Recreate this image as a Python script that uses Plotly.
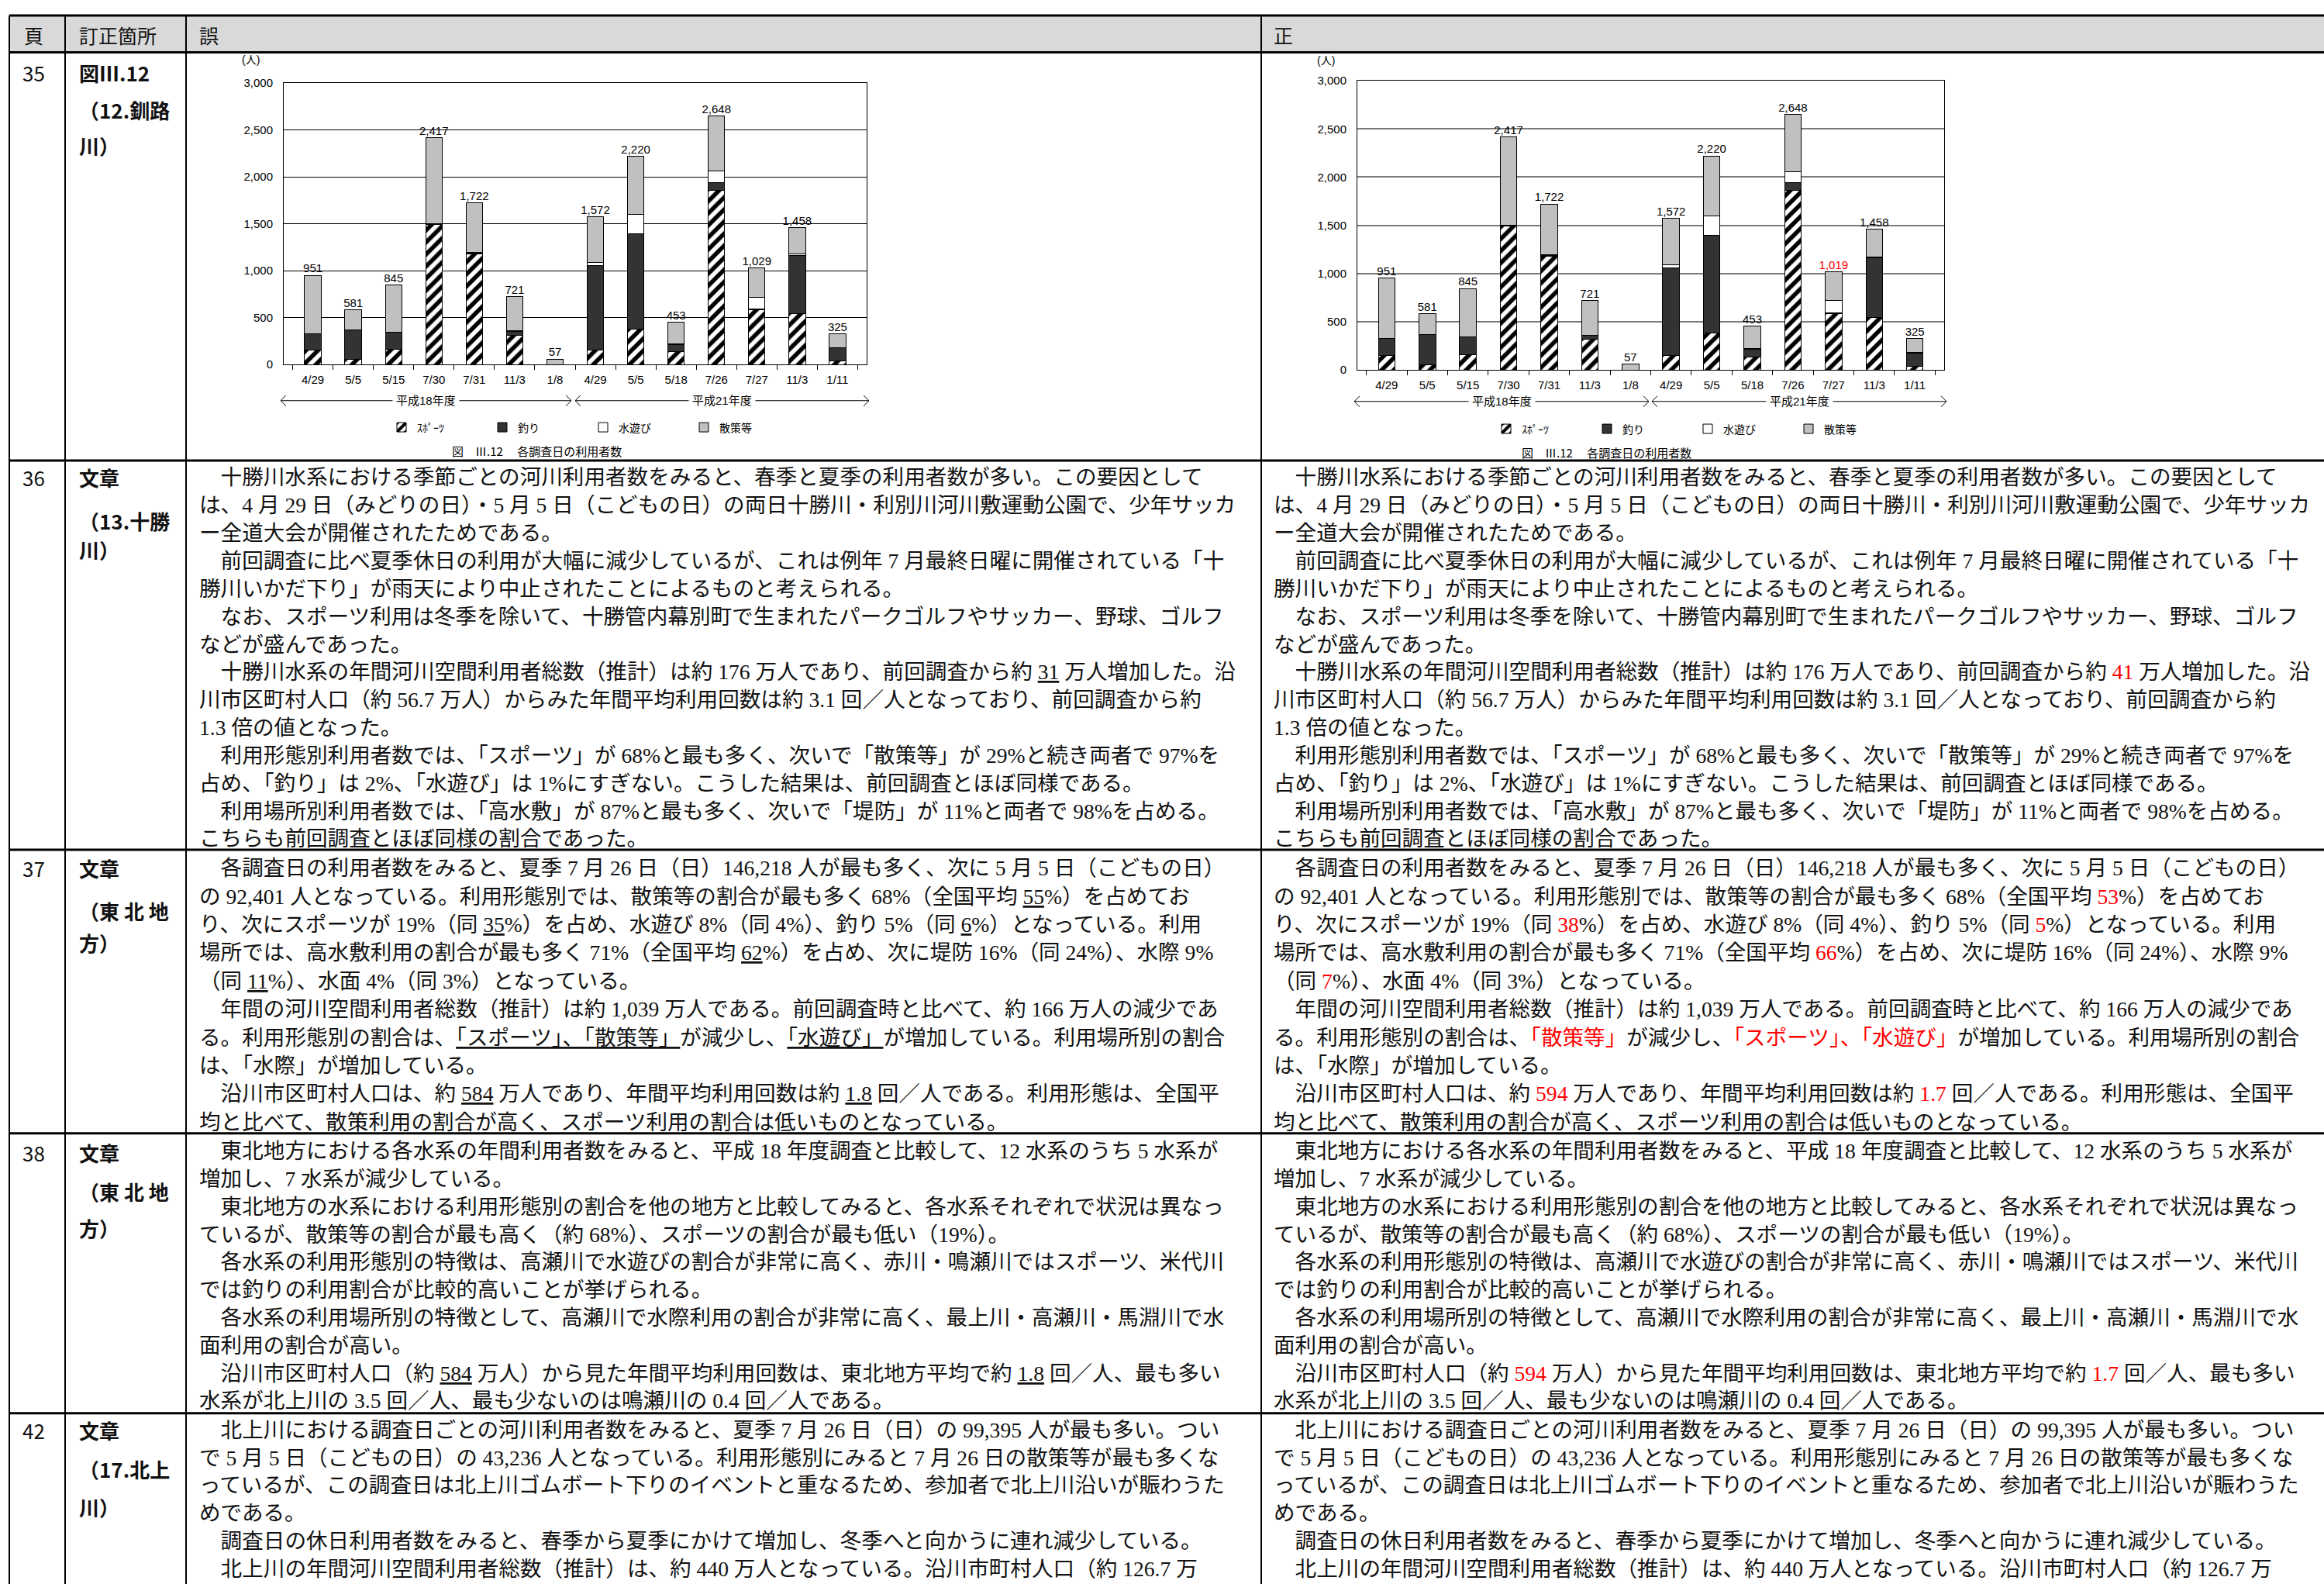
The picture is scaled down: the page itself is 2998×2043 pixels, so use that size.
import plotly.graph_objects as go

W, H = 2998, 2043

# ---------------- chart data (図Ⅲ.12 各調査日の利用者数) ----------------
dates = ["4/29", "5/5", "5/15", "7/30", "7/31", "11/3", "1/8",
         "4/29", "5/5", "5/18", "7/26", "7/27", "11/3", "1/11"]
periods = ["平成18年度"] * 7 + ["平成21年度"] * 7
sports = [150, 55, 160, 1495, 1180, 315, 0, 150, 380, 135, 1860, 580, 545, 35]
fishing = [175, 310, 180, 5, 8, 40, 0, 905, 1015, 75, 80, 15, 620, 140]
water_play = [5, 5, 5, 5, 4, 5, 0, 35, 205, 10, 120, 125, 10, 5]
stroll_wrong = [621, 211, 500, 912, 530, 361, 57, 482, 620, 233, 588, 309, 283, 145]
stroll_right = [621, 211, 500, 912, 530, 361, 57, 482, 620, 233, 588, 299, 283, 145]
corrected = [0] * 11 + [1] + [0] * 2
series_names = ["ｽﾎﾟｰﾂ", "釣り", "水遊び", "散策等"]
y_ticks = [0, 500, 1000, 1500, 2000, 2500, 3000]

BODY = "Liberation Serif, Noto Sans CJK JP"
SANS = "Liberation Sans, Noto Sans CJK JP"
JP = "Noto Sans CJK JP"
RED = "#ff0000"
BODY_SIZE = 27.6


def px(x):
    return x / W


def py(y):
    return 1 - y / H


def U(s):
    return "<u>" + s + "</u>"


def R(s):
    return "<span style='color:%s'>%s</span>" % (RED, s)


cats = [p + " " + d for p, d in zip(periods, dates)]

fig = go.Figure()


def add_chart(stroll, xa, ya, leg, label_red):
    styles = [
        dict(color="white", pattern=dict(shape="/", fgcolor="black", bgcolor="white",
                                         size=11, solidity=0.5, fillmode="replace")),
        dict(color="#333333"),
        dict(color="white"),
        dict(color="#c0c0c0"),
    ]
    for name, vals, st in zip(series_names, [sports, fishing, water_play, stroll], styles):
        st = dict(st)
        st["line"] = dict(color="black", width=1)
        fig.add_trace(go.Bar(x=cats, y=vals, name=name, marker=st, xaxis=xa, yaxis=ya,
                             legend=leg, hoverinfo="skip"))
    totals = [a + b + c + d for a, b, c, d in zip(sports, fishing, water_play, stroll)]
    colors = [RED if (label_red and f) else "black" for f in corrected]
    fig.add_trace(go.Scatter(x=cats, y=totals, mode="text", text=[f"{t:,}" for t in totals],
                             textposition="top center",
                             textfont=dict(size=15, family=SANS, color=colors),
                             xaxis=xa, yaxis=ya, showlegend=False, cliponaxis=False,
                             hoverinfo="skip"))


add_chart(stroll_wrong, "x", "y", "legend", False)
add_chart(stroll_right, "x2", "y2", "legend2", True)


def xaxis_cfg(x0, x1, anchor):
    return dict(domain=[px(x0), px(x1)], anchor=anchor, type="category",
                categoryorder="array", categoryarray=cats, tickmode="array",
                tickvals=cats, ticktext=dates, ticks="outside", tickson="boundaries",
                ticklen=6, tickcolor="black", showline=True, linecolor="black",
                linewidth=1, mirror=True, showgrid=False,
                tickfont=dict(size=15, family=SANS, color="black"), ticklabelstandoff=6)


def yaxis_cfg(y_top, y_bot, anchor, gridcolor, gridwidth):
    return dict(domain=[py(y_bot), py(y_top)], anchor=anchor, range=[0, 3000],
                tickmode="array", tickvals=y_ticks, tickformat=",",
                showgrid=True, gridcolor=gridcolor, gridwidth=gridwidth,
                showline=True, linecolor="black", linewidth=1, mirror=True, ticks="",
                zeroline=False, tickfont=dict(size=15, family=SANS, color="black"),
                ticklabelstandoff=10)


shapes = []
annotations = []


def line(x0, y0, x1, y1, w=2, color="black"):
    shapes.append(dict(type="line", xref="paper", yref="paper", x0=px(x0), y0=py(y0),
                       x1=px(x1), y1=py(y1), line=dict(color=color, width=w)))


def text(x, y, t, size=BODY_SIZE, family=BODY, xanchor="left", color="#111", bg=None):
    a = dict(x=px(x), y=py(y), xref="paper", yref="paper", text=t, showarrow=False,
             xanchor=xanchor, yanchor="middle", font=dict(size=size, family=family, color=color))
    if bg:
        a["bgcolor"] = bg
        a["borderpad"] = 4
    annotations.append(a)


# ---- chart decorations (group arrows, unit, caption) ----
def chart_decor(unit_x, unit_y, arrows, arrow_y, cap_x, cap_y):
    text(unit_x, unit_y, "(人)", size=14, family=SANS, color="black")
    for (a0, a1), lab in zip(arrows, ["平成18年度", "平成21年度"]):
        line(a0, arrow_y, a1, arrow_y, w=1)
        shapes.append(dict(type="path", xref="paper", yref="paper",
                           path="M %f %f L %f %f L %f %f" % (px(a0 + 7), py(arrow_y - 7), px(a0), py(arrow_y), px(a0 + 7), py(arrow_y + 7)),
                           line=dict(color="black", width=1)))
        shapes.append(dict(type="path", xref="paper", yref="paper",
                           path="M %f %f L %f %f L %f %f" % (px(a1 - 7), py(arrow_y - 7), px(a1), py(arrow_y), px(a1 - 7), py(arrow_y + 7)),
                           line=dict(color="black", width=1)))
        text((a0 + a1) / 2, arrow_y, lab, size=15, family=SANS, xanchor="center",
             color="black", bg="white")
    text(cap_x, cap_y, "図　Ⅲ.12　 各調査日の利用者数", size=15, family=JP, xanchor="center", color="black")


chart_decor(310, 69, [(362, 737), (742, 1121)], 512, 692, 577)
chart_decor(1697, 70, [(1747, 2127), (2131, 2511)], 513, 2072, 579)

# ---- table grid ----
shapes.append(dict(type="rect", xref="paper", yref="paper", x0=px(12), x1=px(3010),
                   y0=py(59), y1=py(11), fillcolor="#d9d9d9", line=dict(width=0), layer="below"))
for yy in [11, 59, 590, 1096, 1465, 1829]:
    line(12, yy, 3010, yy, w=3)
for xx in [12, 84, 240, 1627]:
    line(xx, 11, xx, 2060, w=2)

# header
HEAD = dict(size=25, family=JP, color="#111")
text(43, 36, "頁", xanchor="center", **HEAD)
text(100, 36, "訂正箇所", **HEAD)
text(255, 36, "誤", **HEAD)
text(1641, 36, "正", **HEAD)

# page column and location column
pages = [("35", 85), ("36", 612), ("37", 1120), ("38", 1490), ("42", 1851)]
for p, yy in pages:
    text(43, yy, p, size=26, family=JP, xanchor="center")

locs = [
    [("<b>図Ⅲ.12</b>", 85), ("<b>（12.釧路</b>", 134), ("<b>川）</b>", 180)],
    [("<b>文章</b>", 612), ("<b>（13.十勝</b>", 668), ("<b>川）</b>", 705)],
    [("<b>文章</b>", 1120), ("<b>（東 北 地</b>", 1175), ("<b>方）</b>", 1217)],
    [("<b>文章</b>", 1490), ("<b>（東 北 地</b>", 1540), ("<b>方）</b>", 1588)],
    [("<b>文章</b>", 1851), ("<b>（17.北上</b>", 1901), ("<b>川）</b>", 1951)],
]
for grp in locs:
    for t, yy in grp:
        text(100, yy, t, size=26, family=JP)

# ---- body text ----
I = "　"


def r36(v):
    return [
        I + "十勝川水系における季節ごとの河川利用者数をみると、春季と夏季の利用者数が多い。この要因として",
        "は、4 月 29 日（みどりの日）・5 月 5 日（こどもの日）の両日十勝川・利別川河川敷運動公園で、少年サッカ",
        "ー全道大会が開催されたためである。",
        I + "前回調査に比べ夏季休日の利用が大幅に減少しているが、これは例年 7 月最終日曜に開催されている「十",
        "勝川いかだ下り」が雨天により中止されたことによるものと考えられる。",
        I + "なお、スポーツ利用は冬季を除いて、十勝管内幕別町で生まれたパークゴルフやサッカー、野球、ゴルフ",
        "などが盛んであった。",
        I + "十勝川水系の年間河川空間利用者総数（推計）は約 176 万人であり、前回調査から約 " + v + " 万人増加した。沿",
        "川市区町村人口（約 56.7 万人）からみた年間平均利用回数は約 3.1 回／人となっており、前回調査から約",
        "1.3 倍の値となった。",
        I + "利用形態別利用者数では、「スポーツ」が 68%と最も多く、次いで「散策等」が 29%と続き両者で 97%を",
        "占め、「釣り」は 2%、「水遊び」は 1%にすぎない。こうした結果は、前回調査とほぼ同様である。",
        I + "利用場所別利用者数では、「高水敷」が 87%と最も多く、次いで「堤防」が 11%と両者で 98%を占める。",
        "こちらも前回調査とほぼ同様の割合であった。",
    ]


row36_wrong = r36(U("31"))
row36_right = r36(R("41"))

row37_wrong = [
    I + "各調査日の利用者数をみると、夏季 7 月 26 日（日）146,218 人が最も多く、次に 5 月 5 日（こどもの日）",
    "の 92,401 人となっている。利用形態別では、散策等の割合が最も多く 68%（全国平均 " + U("55") + "%）を占めてお",
    "り、次にスポーツが 19%（同 " + U("35") + "%）を占め、水遊び 8%（同 4%）、釣り 5%（同 " + U("6") + "%）となっている。利用",
    "場所では、高水敷利用の割合が最も多く 71%（全国平均 " + U("62") + "%）を占め、次に堤防 16%（同 24%）、水際 9%",
    "（同 " + U("11") + "%）、水面 4%（同 3%）となっている。",
    I + "年間の河川空間利用者総数（推計）は約 1,039 万人である。前回調査時と比べて、約 166 万人の減少であ",
    "る。利用形態別の割合は、" + U("「スポーツ」、「散策等」") + "が減少し、" + U("「水遊び」") + "が増加している。利用場所別の割合",
    "は、「水際」が増加している。",
    I + "沿川市区町村人口は、約 " + U("584") + " 万人であり、年間平均利用回数は約 " + U("1.8") + " 回／人である。利用形態は、全国平",
    "均と比べて、散策利用の割合が高く、スポーツ利用の割合は低いものとなっている。",
]
row37_right = [
    I + "各調査日の利用者数をみると、夏季 7 月 26 日（日）146,218 人が最も多く、次に 5 月 5 日（こどもの日）",
    "の 92,401 人となっている。利用形態別では、散策等の割合が最も多く 68%（全国平均 " + R("53") + "%）を占めてお",
    "り、次にスポーツが 19%（同 " + R("38") + "%）を占め、水遊び 8%（同 4%）、釣り 5%（同 " + R("5") + "%）となっている。利用",
    "場所では、高水敷利用の割合が最も多く 71%（全国平均 " + R("66") + "%）を占め、次に堤防 16%（同 24%）、水際 9%",
    "（同 " + R("7") + "%）、水面 4%（同 3%）となっている。",
    I + "年間の河川空間利用者総数（推計）は約 1,039 万人である。前回調査時と比べて、約 166 万人の減少であ",
    "る。利用形態別の割合は、" + R("「散策等」") + "が減少し、" + R("「スポーツ」、「水遊び」") + "が増加している。利用場所別の割合",
    "は、「水際」が増加している。",
    I + "沿川市区町村人口は、約 " + R("594") + " 万人であり、年間平均利用回数は約 " + R("1.7") + " 回／人である。利用形態は、全国平",
    "均と比べて、散策利用の割合が高く、スポーツ利用の割合は低いものとなっている。",
]


def r38(a, b):
    return [
        I + "東北地方における各水系の年間利用者数をみると、平成 18 年度調査と比較して、12 水系のうち 5 水系が",
        "増加し、7 水系が減少している。",
        I + "東北地方の水系における利用形態別の割合を他の地方と比較してみると、各水系それぞれで状況は異なっ",
        "ているが、散策等の割合が最も高く（約 68%）、スポーツの割合が最も低い（19%）。",
        I + "各水系の利用形態別の特徴は、高瀬川で水遊びの割合が非常に高く、赤川・鳴瀬川ではスポーツ、米代川",
        "では釣りの利用割合が比較的高いことが挙げられる。",
        I + "各水系の利用場所別の特徴として、高瀬川で水際利用の割合が非常に高く、最上川・高瀬川・馬淵川で水",
        "面利用の割合が高い。",
        I + "沿川市区町村人口（約 " + a + " 万人）から見た年間平均利用回数は、東北地方平均で約 " + b + " 回／人、最も多い",
        "水系が北上川の 3.5 回／人、最も少ないのは鳴瀬川の 0.4 回／人である。",
    ]


row38_wrong = r38(U("584"), U("1.8"))
row38_right = r38(R("594"), R("1.7"))

row42 = [
    I + "北上川における調査日ごとの河川利用者数をみると、夏季 7 月 26 日（日）の 99,395 人が最も多い。つい",
    "で 5 月 5 日（こどもの日）の 43,236 人となっている。利用形態別にみると 7 月 26 日の散策等が最も多くな",
    "っているが、この調査日は北上川ゴムボート下りのイベントと重なるため、参加者で北上川沿いが賑わうた",
    "めである。",
    I + "調査日の休日利用者数をみると、春季から夏季にかけて増加し、冬季へと向かうに連れ減少している。",
    I + "北上川の年間河川空間利用者総数（推計）は、約 440 万人となっている。沿川市町村人口（約 126.7 万",
]


def add_block(lines, x0, y0, step):
    for i, t in enumerate(lines):
        text(x0, y0 + i * step, t)


for (lw, lr), (y0, step) in zip(
        [(row36_wrong, row36_right), (row37_wrong, row37_right),
         (row38_wrong, row38_right), (row42, row42)],
        [(612, 36.15), (1120, 36.7), (1488, 36.1), (1851, 36.0)]):
    add_block(lw, 255, y0, step)
    add_block(lr, 1641, y0, step)

legend_common = dict(orientation="h", xanchor="left", yanchor="middle",
                     font=dict(size=14, family=JP, color="black"), entrywidth=85,
                     entrywidthmode="pixels", itemwidth=30, bgcolor="rgba(0,0,0,0)",
                     traceorder="normal")

fig.update_layout(
    width=W, height=H, autosize=False,
    margin=dict(l=0, r=0, t=0, b=0),
    paper_bgcolor="white", plot_bgcolor="white",
    barmode="stack", bargap=0.59,
    showlegend=True,
    xaxis=xaxis_cfg(366, 1118, "y"),
    yaxis=yaxis_cfg(99, 465, "x", "black", 1),
    xaxis2=xaxis_cfg(1751, 2508, "y2"),
    yaxis2=yaxis_cfg(96, 472, "x2", "#7a7a7a", 2),
    legend=dict(x=px(498), y=py(547), **legend_common),
    legend2=dict(x=px(1923), y=py(549), **legend_common),
    shapes=shapes,
    annotations=annotations,
)

fig.write_html("out.html", config={"displayModeBar": False},
               post_script="document.body.style.margin='0';document.body.style.overflow='hidden';")
